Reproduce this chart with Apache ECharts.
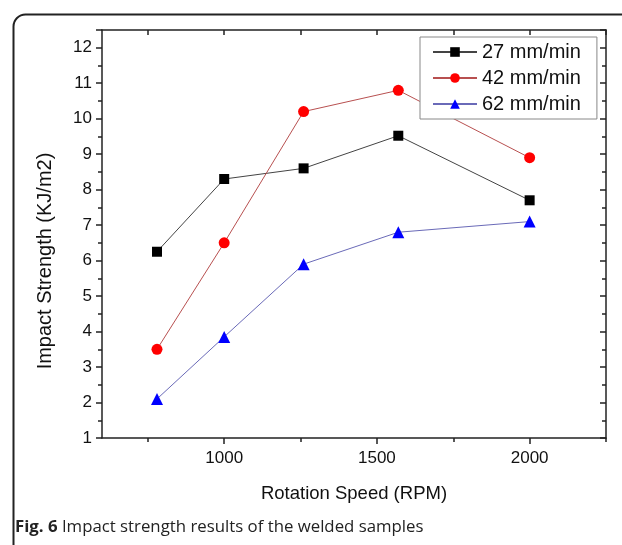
<!DOCTYPE html>
<html>
<head>
<meta charset="utf-8">
<script src="https://cdn.jsdelivr.net/npm/echarts@6/dist/echarts.min.js"></script>
<style>
html,body{margin:0;padding:0;background:#fff;}
#chart{width:622px;height:545px;}
</style>
</head>
<body>
<div id="chart"></div>
<script>
// ---- data ----
const rpm = [780, 1000, 1260, 1570, 2000];
const s27 = [6.25, 8.3, 8.6, 9.52, 7.7];
const s42 = [3.5, 6.5, 10.2, 10.8, 8.9];
const s62 = [2.1, 3.85, 5.9, 6.8, 7.1];
const seriesNames = ['27 mm/min', '42 mm/min', '62 mm/min'];
const xMajorTicks = [1000, 1500, 2000];
const xMinorTicks = [750, 1250, 1750, 2250];
const xAllTicks = [750, 1000, 1250, 1500, 1750, 2000, 2250];
const yTicks = [1, 2, 3, 4, 5, 6, 7, 8, 9, 10, 11, 12];
const xTitle = 'Rotation Speed (RPM)';
const yTitle = 'Impact Strength (KJ/m2)';
const captionBold = 'Fig. 6';
const captionText = ' Impact strength results of the welded samples';

const pairs = (xs, ys) => xs.map((x, i) => [x, ys[i]]);
const FONT = '"Liberation Sans", Arial, sans-serif';
const CAPFONT = '"Open Sans", sans-serif';
const AX = '#222';

const baseX = {
  type: 'value', min: 600, max: 2250, gridIndex: 0,
  splitLine: {show: false},
  axisLine: {show: true, lineStyle: {color: AX, width: 1.5}}
};
const baseY = {
  type: 'value', min: 1, max: 12.5, interval: 1, gridIndex: 0,
  splitLine: {show: false},
  axisLine: {show: true, lineStyle: {color: AX, width: 1.5}}
};

const chart = echarts.init(document.getElementById('chart'), null, {renderer: 'canvas'});
chart.setOption({
  backgroundColor: '#fff',
  animation: false,
  grid: {left: 102, top: 30, right: 16, bottom: 107, containLabel: false},
  xAxis: [
    Object.assign({}, baseX, {
      position: 'bottom',
      name: xTitle, nameLocation: 'middle', nameGap: 46,
      nameTextStyle: {fontFamily: FONT, fontSize: 18.5, color: '#111'},
      axisTick: {show: true, inside: false, length: 6, customValues: xMajorTicks, lineStyle: {color: AX, width: 1.5}},
      axisLabel: {show: true, customValues: xMajorTicks, formatter: v => String(v),
                  fontFamily: FONT, fontSize: 17, color: '#111', margin: 12}
    }),
    Object.assign({}, baseX, {
      position: 'bottom', axisLine: {show: false},
      axisTick: {show: true, inside: false, length: 4, customValues: xMinorTicks, lineStyle: {color: AX, width: 1.5}},
      axisLabel: {show: false}
    }),
    Object.assign({}, baseX, {
      position: 'top',
      axisTick: {show: true, inside: true, length: 5, customValues: xAllTicks, lineStyle: {color: AX, width: 1.5}},
      axisLabel: {show: false}
    })
  ],
  yAxis: [
    Object.assign({}, baseY, {
      position: 'left',
      axisTick: {show: true, inside: false, length: 6, lineStyle: {color: AX, width: 1.5}},
      minorTick: {show: true, splitNumber: 2, length: 4, lineStyle: {color: AX, width: 1.5}},
      axisLabel: {show: true, customValues: yTicks, fontFamily: FONT, fontSize: 17, color: '#111', margin: 10}
    }),
    Object.assign({}, baseY, {
      position: 'right',
      axisTick: {show: true, inside: true, length: 6, lineStyle: {color: AX, width: 1.5}},
      minorTick: {show: true, splitNumber: 2, length: 4, lineStyle: {color: AX, width: 1.5}},
      axisLabel: {show: false}
    })
  ],
  legend: {
    left: 420, top: 37, orient: 'vertical',
    data: seriesNames,
    itemWidth: 44, itemHeight: 12, itemGap: 6,
    padding: [5, 16, 5, 12],
    borderColor: '#888', borderWidth: 1,
    textStyle: {fontFamily: FONT, fontSize: 20, color: '#111'},
    backgroundColor: '#fff'
  },
  series: [
    {name: seriesNames[0], type: 'line', data: pairs(rpm, s27), symbol: 'rect', symbolSize: 10,
     lineStyle: {color: '#444', width: 1}, itemStyle: {color: '#000'}, z: 3},
    {name: seriesNames[1], type: 'line', data: pairs(rpm, s42), symbol: 'circle', symbolSize: 11,
     lineStyle: {color: '#b85050', width: 1}, itemStyle: {color: '#ff0000'}, z: 3},
    {name: seriesNames[2], type: 'line', data: pairs(rpm, s62), symbol: 'triangle', symbolSize: 12,
     lineStyle: {color: '#6a6ab8', width: 1}, itemStyle: {color: '#0000ff'}, z: 3}
  ],
  graphic: [
    {type: 'rect', left: 11, top: 12, silent: true, z: -1,
     shape: {width: 640, height: 560, r: 12},
     style: {fill: 'none', stroke: '#222', lineWidth: 2}},
    {type: 'text', x: 45, y: 261, rotation: Math.PI / 2, silent: true,
     style: {text: yTitle, fontFamily: FONT, fontSize: 20, fill: '#111',
             align: 'center', verticalAlign: 'middle'}},
    {type: 'text', left: 15, top: 519, silent: true,
     style: {
       text: '{b|' + captionBold + '}{n|' + captionText + '}',
       rich: {
         b: {fontFamily: CAPFONT, fontSize: 16.8, fontWeight: 'bold', fill: '#222'},
         n: {fontFamily: CAPFONT, fontSize: 16.8, fill: '#222'}
       }
     }}
  ]
});
</script>
</body>
</html>
